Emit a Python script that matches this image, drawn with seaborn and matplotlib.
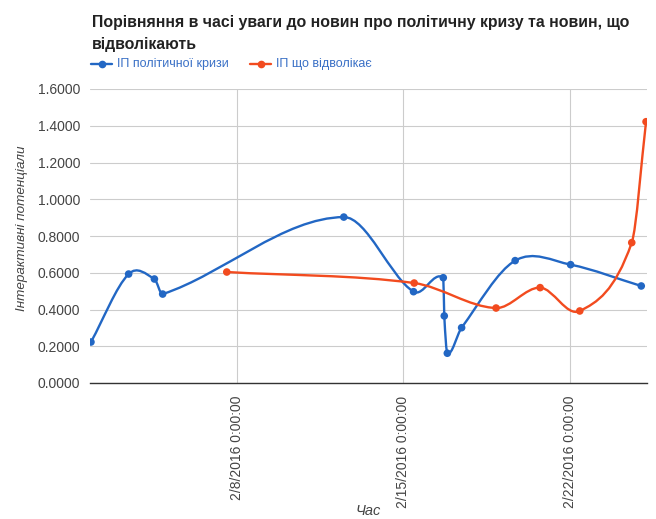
import numpy as np
import pandas as pd
import matplotlib
matplotlib.use("Agg")
import matplotlib.pyplot as plt
import matplotlib.dates as mdates
from matplotlib.path import Path
from matplotlib.patches import PathPatch
from matplotlib.lines import Line2D
import seaborn as sns

# ---- data ----
title_lines = ["Порівняння в часі уваги до новин про політичну кризу та новин, що", "відволікають"]
series_names = ["ІП політичної кризи", "ІП що відволікає"]
y_label = "Інтерактивні потенціали"
x_label = "Час"

crisis_dates = ["2016-02-01 21:00", "2016-02-03 11:00", "2016-02-04 13:00", "2016-02-04 21:20",
                "2016-02-12 12:00", "2016-02-15 10:20", "2016-02-16 16:20", "2016-02-16 17:20",
                "2016-02-16 20:25", "2016-02-17 10:50", "2016-02-19 16:50", "2016-02-22 00:45",
                "2016-02-25 00:00"]
crisis_values = [0.223, 0.593, 0.566, 0.484, 0.903, 0.497, 0.573, 0.365, 0.162, 0.301, 0.666, 0.644, 0.528]

distract_dates = ["2016-02-07 14:00", "2016-02-15 11:00", "2016-02-18 21:35", "2016-02-20 18:00",
                  "2016-02-22 10:00", "2016-02-24 14:25", "2016-02-25 04:50"]
distract_values = [0.604, 0.544, 0.408, 0.519, 0.392, 0.764, 1.422]

y_ticks = [0.0, 0.2, 0.4, 0.6, 0.8, 1.0, 1.2, 1.4, 1.6]
x_ticks = ["2016-02-08", "2016-02-15", "2016-02-22"]
x_tick_labels = ["2/8/2016 0:00:00", "2/15/2016 0:00:00", "2/22/2016 0:00:00"]

colors = ["#2267c4", "#f24b1f"]

df = pd.concat([
    pd.DataFrame({"date": pd.to_datetime(crisis_dates), "value": crisis_values, "series": series_names[0]}),
    pd.DataFrame({"date": pd.to_datetime(distract_dates), "value": distract_values, "series": series_names[1]}),
], ignore_index=True)

sns.set_theme(style="white")
plt.rcParams["font.family"] = ["Liberation Sans", "DejaVu Sans"]

W, H = 656, 519
fig = plt.figure(figsize=(W / 100, H / 100), dpi=100)
ax = fig.add_axes([90 / W, 1 - 383 / H, (647 - 90) / W, (383 - 89) / H])


def function_curve(xs, ys):
    """Smooth curve that stays a function of x (like a 'function' curve type)."""
    xs = np.asarray(xs, float)
    ys = np.asarray(ys, float)
    n = len(xs)
    m = np.zeros(n)
    for i in range(n):
        lo = max(i - 1, 0)
        hi = min(i + 1, n - 1)
        dx = xs[hi] - xs[lo]
        m[i] = (ys[hi] - ys[lo]) / dx if dx > 0 else 0.0
    verts = [(xs[0], ys[0])]
    codes = [Path.MOVETO]
    for i in range(n - 1):
        h = (xs[i + 1] - xs[i]) / 3.0
        verts += [(xs[i] + h, ys[i] + m[i] * h),
                  (xs[i + 1] - h, ys[i + 1] - m[i + 1] * h),
                  (xs[i + 1], ys[i + 1])]
        codes += [Path.CURVE4] * 3
    return Path(verts, codes)


sns.scatterplot(data=df, x="date", y="value", hue="series", palette=colors,
                s=30, edgecolor="none", legend=False, ax=ax, zorder=4)

for name, col in zip(series_names, colors):
    sub = df[df["series"] == name]
    xs = mdates.date2num(sub["date"])
    path = function_curve(xs, sub["value"].to_numpy())
    ax.add_patch(PathPatch(path, facecolor="none", edgecolor=col, lw=1.7, zorder=3,
                           capstyle="round", joinstyle="round"))

dnum = mdates.date2num(df["date"])
ax.set_xlim(dnum.min() - 0.04, dnum.max() + 0.04)
ax.set_ylim(0, 1.6)
ax.set_yticks(y_ticks)
ax.set_yticklabels([f"{v:.4f}" for v in y_ticks])
ax.set_xticks(mdates.date2num(pd.to_datetime(x_ticks)))
ax.set_xticklabels(x_tick_labels, rotation=90, va="top", ha="center")

ax.grid(True, color="#cccccc", lw=0.8)
ax.set_axisbelow(True)
for s in ["top", "right", "left"]:
    ax.spines[s].set_visible(False)
ax.spines["bottom"].set_color("#333333")
ax.spines["bottom"].set_linewidth(1.0)
ax.tick_params(axis="both", length=0, labelsize=10, labelcolor="#444444")
ax.tick_params(axis="y", pad=7)
ax.tick_params(axis="x", pad=9)
ax.set_xlabel("")
ax.set_ylabel("")

fig.text(22 / W, 1 - 228 / H, y_label, rotation=90, ha="center", va="center",
         fontsize=9.7, style="italic", color="#444444")
fig.text(368 / W, 1 - 504 / H, x_label, ha="center", va="top",
         fontsize=10.5, style="italic", color="#444444")

fig.text(92 / W, 1 - 23 / H, title_lines[0], ha="left", va="center", fontsize=11.45,
         fontweight="bold", color="#222222")
fig.text(92 / W, 1 - 44 / H, title_lines[1], ha="left", va="center", fontsize=11.45,
         fontweight="bold", color="#222222")

# legend: handle line with dot, then label
leg_y = 1 - 63.5 / H
handle_x = [(91, 112), (250, 271)]
text_x = [117, 276]
for (x0, x1), tx, name, col in zip(handle_x, text_x, series_names, colors):
    fig.add_artist(Line2D([x0 / W, x1 / W], [leg_y, leg_y], transform=fig.transFigure,
                          color=col, lw=1.7))
    fig.add_artist(Line2D([(x0 + x1) / 2 / W], [leg_y], transform=fig.transFigure,
                          color=col, marker="o", markersize=4.5, lw=0))
    fig.text(tx / W, leg_y, name, ha="left", va="center", fontsize=9, color="#3a70c6")

fig.savefig("out.png", dpi=100)
